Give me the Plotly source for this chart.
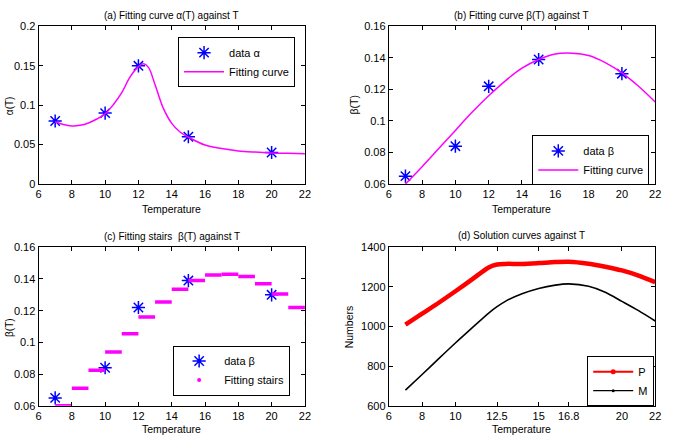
import plotly.graph_objects as go

# ---------------- data ----------------
T_data = [7, 10, 12, 15, 20]
alpha_data = [0.08, 0.09, 0.15, 0.06, 0.04]
beta_data = [0.065, 0.084, 0.122, 0.139, 0.130]

alpha_curve_T = [7, 7.5, 8, 8.5, 9, 9.5, 10, 10.5, 11, 11.5, 12, 12.3, 12.6, 13,
                 13.5, 14, 14.5, 15, 16, 17, 18, 19, 20, 21, 22]
alpha_curve = [0.079, 0.0755, 0.0737, 0.0745, 0.0775, 0.0825, 0.089, 0.101, 0.116,
               0.136, 0.149, 0.1525, 0.148, 0.126, 0.096, 0.077, 0.066, 0.0595,
               0.0495, 0.045, 0.042, 0.0405, 0.0395, 0.039, 0.0385]

beta_curve_T = [7, 8, 9, 10, 11, 12, 13, 14, 15, 16, 17, 18, 19, 20, 21, 22]
beta_curve = [0.060, 0.071, 0.0825, 0.094, 0.1055, 0.116, 0.1255, 0.1335, 0.139,
              0.1425, 0.143, 0.1415, 0.137, 0.1305, 0.122, 0.112]

sol_T = [7, 8, 9, 10, 11, 12, 12.5, 13, 14, 15, 16, 16.8, 18, 19, 20, 21, 22]
P_vals = [1010, 1065, 1120, 1178, 1238, 1298, 1313, 1316, 1316, 1320, 1325, 1327,
          1317, 1302, 1283, 1257, 1224]
M_vals = [679, 758, 838, 917, 993, 1068, 1100, 1127, 1165, 1192, 1209, 1215,
          1203, 1173, 1127, 1080, 1028]

x_ticks_abc = [6, 8, 10, 12, 14, 16, 18, 20, 22]
x_ticks_d = [6, 8, 10, 12.5, 15, 16.8, 20, 22]
x_ticktext_d = ["6", "8", "10", "12.5", "15", "16.8", "20", "22"]

FONT = "Liberation Sans, Arial, sans-serif"
BLUE = "rgb(0,0,255)"
MAG = "rgb(255,0,255)"

W, H = 676, 441

def px_x(p):
    return p / W

def px_y(p):
    return 1 - p / H

# stairs built from curve values (one step per integer temperature)
stairs_x, stairs_y = [], []
for t, v in zip(beta_curve_T, beta_curve):
    stairs_x += [t, t + 1, None]
    stairs_y += [v, v, None]

fig = go.Figure()

star = dict(symbol="asterisk-open", size=11, color=BLUE, line=dict(color=BLUE, width=1.5))

# (a)
fig.add_trace(go.Scatter(x=T_data, y=alpha_data, mode="markers", marker=star,
                         name="data α", xaxis="x", yaxis="y", legend="legend"))
fig.add_trace(go.Scatter(x=alpha_curve_T, y=alpha_curve, mode="lines",
                         line=dict(color=MAG, width=1.5, shape="spline", smoothing=1.0),
                         name="Fitting curve", xaxis="x", yaxis="y", legend="legend"))
# (b)
fig.add_trace(go.Scatter(x=T_data, y=beta_data, mode="markers", marker=star,
                         name="data β", xaxis="x2", yaxis="y2", legend="legend2"))
fig.add_trace(go.Scatter(x=beta_curve_T, y=beta_curve, mode="lines",
                         line=dict(color=MAG, width=1.5, shape="spline"),
                         name="Fitting curve", xaxis="x2", yaxis="y2", legend="legend2"))
# (c)
fig.add_trace(go.Scatter(x=T_data, y=beta_data, mode="markers", marker=star,
                         name="data β", xaxis="x3", yaxis="y3", legend="legend3"))
fig.add_trace(go.Scatter(x=stairs_x, y=stairs_y, mode="lines",
                         line=dict(color=MAG, width=3.5), showlegend=False,
                         xaxis="x3", yaxis="y3"))
fig.add_trace(go.Scatter(x=[None], y=[None], mode="markers",
                         marker=dict(color=MAG, size=4), name="Fitting stairs",
                         xaxis="x3", yaxis="y3", legend="legend3"))
# (d)
fig.add_trace(go.Scatter(x=sol_T, y=P_vals, mode="lines",
                         line=dict(color="rgb(255,0,0)", width=4.5, shape="spline", smoothing=0.8),
                         showlegend=False, xaxis="x4", yaxis="y4"))
fig.add_trace(go.Scatter(x=[None], y=[None], mode="lines+markers",
                         line=dict(color="rgb(255,0,0)", width=2),
                         marker=dict(color="rgb(255,0,0)", size=5),
                         name="P", xaxis="x4", yaxis="y4", legend="legend4"))
fig.add_trace(go.Scatter(x=sol_T, y=M_vals, mode="lines",
                         line=dict(color="black", width=1.6, shape="spline", smoothing=0.8),
                         showlegend=False, xaxis="x4", yaxis="y4"))
fig.add_trace(go.Scatter(x=[None], y=[None], mode="lines+markers",
                         line=dict(color="black", width=1.2),
                         marker=dict(color="black", size=3),
                         name="M", xaxis="x4", yaxis="y4", legend="legend4"))

ax_common = dict(showline=True, linecolor="black", linewidth=1, mirror="ticks",
                 ticks="inside", ticklen=4, tickcolor="black", showgrid=False,
                 zeroline=False, tickfont=dict(size=11, color="black", family=FONT),
                 fixedrange=True)

dom_x_left = [px_x(36), px_x(306)]
dom_x_right = [px_x(391), px_x(661)]
dom_y_top = [px_y(183), px_y(21)]
dom_y_bot = [px_y(411), px_y(248)]

leg_common = dict(bordercolor="black", borderwidth=1, bgcolor="white",
                  font=dict(size=11, family=FONT, color="black"),
                  xanchor="right", yanchor="top", itemwidth=40,
                  tracegroupgap=0)

fig.update_layout(
    width=W, height=H, margin=dict(l=0, r=0, t=0, b=0),
    paper_bgcolor="white", plot_bgcolor="white",
    font=dict(family=FONT, color="black", size=11),
    xaxis=dict(domain=dom_x_left, range=[6, 22], tickvals=x_ticks_abc, anchor="y", **ax_common),
    yaxis=dict(domain=dom_y_top, range=[0, 0.2], tickvals=[0, 0.05, 0.1, 0.15, 0.2],
               ticktext=["0", "0.05", "0.1", "0.15", "0.2"], anchor="x", **ax_common),
    xaxis2=dict(domain=dom_x_right, range=[6, 22], tickvals=x_ticks_abc, anchor="y2", **ax_common),
    yaxis2=dict(domain=dom_y_top, range=[0.06, 0.16],
                tickvals=[0.06, 0.08, 0.1, 0.12, 0.14, 0.16],
                ticktext=["0.06", "0.08", "0.1", "0.12", "0.14", "0.16"], anchor="x2", **ax_common),
    xaxis3=dict(domain=dom_x_left, range=[6, 22], tickvals=x_ticks_abc, anchor="y3", **ax_common),
    yaxis3=dict(domain=dom_y_bot, range=[0.06, 0.16],
                tickvals=[0.06, 0.08, 0.1, 0.12, 0.14, 0.16],
                ticktext=["0.06", "0.08", "0.1", "0.12", "0.14", "0.16"], anchor="x3", **ax_common),
    xaxis4=dict(domain=dom_x_right, range=[6, 22], tickvals=x_ticks_d,
                ticktext=x_ticktext_d, anchor="y4", **ax_common),
    yaxis4=dict(domain=dom_y_bot, range=[600, 1400],
                tickvals=[600, 800, 1000, 1200, 1400], anchor="x4", **ax_common),
    legend=dict(x=px_x(296), y=px_y(32), **leg_common),
    legend2=dict(x=px_x(655), y=px_y(133), **leg_common),
    legend3=dict(x=px_x(291), y=px_y(349), **leg_common),
    legend4=dict(x=px_x(660), y=px_y(360), **leg_common),
)

ann = []
def add_text(text, x, y, size=10.5, angle=0):
    ann.append(dict(text=text, x=px_x(x), y=px_y(y), xref="paper", yref="paper",
                    showarrow=False, xanchor="center", yanchor="middle", textangle=angle,
                    font=dict(size=size, family=FONT, color="black")))

add_text("(a) Fitting curve α(T) against T", 171, 10, 10)
add_text("(b) Fitting curve β(T) against T", 526, 10, 10)
add_text("(c) Fitting stairs  β(T) against T", 171, 237, 10)
add_text("(d) Solution curves against T", 526, 236, 10)
add_text("Temperature", 171, 209)
add_text("Temperature", 526, 209)
add_text("Temperature", 171, 435)
add_text("Temperature", 526, 435)
add_text("α(T)", 6, 102, 10, -90)
add_text("β(T)", 356, 102, 10.5, -90)
add_text("β(T)", 6, 330, 10, -90)
add_text("Numbers", 351, 330, 10.5, -90)
fig.update_layout(annotations=ann)

fig.write_html("out.html")
